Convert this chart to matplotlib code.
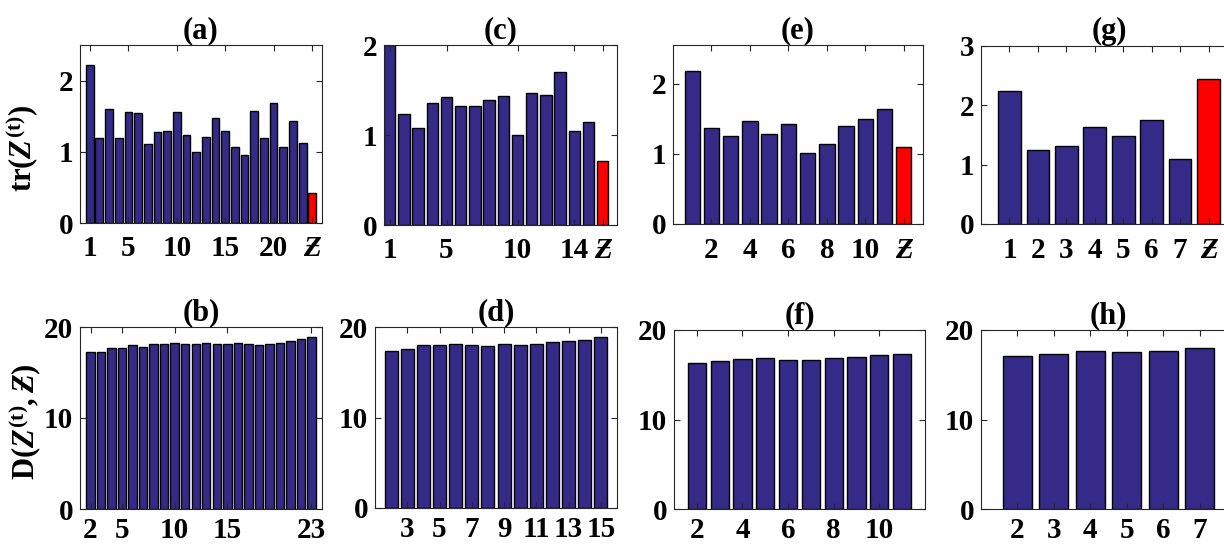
import numpy as np
import matplotlib.pyplot as plt

plt.rcParams["font.family"] = ["Liberation Serif", "DejaVu Serif"]
plt.rcParams["font.weight"] = "bold"
plt.rcParams["mathtext.fontset"] = "custom"
plt.rcParams["mathtext.rm"] = "Liberation Serif:bold"
plt.rcParams["mathtext.it"] = "Liberation Serif:italic:bold"
plt.rcParams["mathtext.bf"] = "Liberation Serif:bold"

ZS = "\u01b5"

# top row: tr(Z^(t)) per cluster, last bar is the merged one (red)
tr_a = [2.22, 1.19, 1.60, 1.19, 1.56, 1.54, 1.11, 1.28, 1.29, 1.56, 1.24, 1.00,
        1.21, 1.48, 1.29, 1.07, 0.95, 1.57, 1.19, 1.68, 1.07, 1.43, 1.12]
tr_a_z = 0.42
tr_c = [2.00, 1.23, 1.08, 1.35, 1.42, 1.32, 1.32, 1.39, 1.43, 1.00, 1.47, 1.44,
        1.70, 1.04, 1.14]
tr_c_z = 0.71
tr_e = [2.18, 1.37, 1.26, 1.47, 1.28, 1.42, 1.01, 1.14, 1.39, 1.50, 1.64]
tr_e_z = 1.10
tr_g = [2.24, 1.25, 1.31, 1.63, 1.48, 1.75, 1.10]
tr_g_z = 2.44

# bottom row: D(Z^(t), Z) for t = 2..T
d_b = [17.2, 17.3, 17.7, 17.7, 18.0, 17.8, 18.1, 18.1, 18.2, 18.1, 18.1, 18.2,
       18.1, 18.1, 18.2, 18.1, 18.0, 18.1, 18.2, 18.5, 18.7, 18.9]
d_d = [17.4, 17.6, 18.0, 18.0, 18.1, 18.0, 17.9, 18.1, 18.0, 18.1, 18.3, 18.4,
       18.6, 18.9]
d_f = [16.3, 16.5, 16.8, 16.9, 16.6, 16.6, 16.9, 17.0, 17.2, 17.3]
d_h = [17.1, 17.3, 17.6, 17.5, 17.7, 18.0]

xt_a = [1, 5, 10, 15, 20]
xt_c = [1, 5, 10, 14]
xt_e = [2, 4, 6, 8, 10]
xt_g = [1, 2, 3, 4, 5, 6, 7]
xt_b = [2, 5, 10, 15, 23]
xt_d = [3, 5, 7, 9, 11, 13, 15]
xt_f = [2, 4, 6, 8, 10]
xt_h = [2, 3, 4, 5, 6, 7]

BLUE = "#352a87"
FS = 21
W, H = 1224, 544

fig = plt.figure(figsize=(W / 100, H / 100), dpi=100)


def px_axes(l, t, r, b):
    return fig.add_axes([l / W, 1 - b / H, (r - l) / W, (b - t) / H])


def style(ax, title, xpad):
    for s in ax.spines.values():
        s.set_color("#262626")
        s.set_linewidth(0.8)
    ax.tick_params(direction="in", top=True, right=True, length=4, width=0.8,
                   labelsize=FS, color="#262626")
    ax.tick_params(axis="x", pad=xpad)
    ax.tick_params(axis="y", pad=5)
    ax.set_title(title, fontsize=FS + 1, fontweight="bold", pad=5)


def tr_panel(ax, vals, zval, xt, xlim, ylim, yt, title):
    x = np.arange(1, len(vals) + 1)
    ax.bar(x, vals, width=0.8, color=BLUE, edgecolor="k", linewidth=1)
    zx = len(vals) + 1
    ax.bar([zx], [zval], width=0.8, color="red", edgecolor="k", linewidth=1)
    ax.set_xticks(list(xt) + [zx])
    ax.set_xticklabels([str(v) for v in xt] + [ZS])
    ax.get_xticklabels()[-1].set_fontstyle("italic")
    ax.set_xlim(*xlim)
    ax.set_ylim(*ylim)
    ax.set_yticks(yt)
    style(ax, title, 9)


def d_panel(ax, vals, xt, xlim, title):
    x = np.arange(2, len(vals) + 2)
    ax.bar(x, vals, width=0.8, color=BLUE, edgecolor="k", linewidth=1)
    ax.set_xticks(xt)
    ax.set_xlim(*xlim)
    ax.set_ylim(0, 20)
    ax.set_yticks([0, 10, 20])
    style(ax, title, 6)


ax_a = px_axes(80, 45, 322, 223)
tr_panel(ax_a, tr_a, tr_a_z, xt_a, (0, 25), (0, 2.5), [0, 1, 2], "(a)")
ax_a.set_ylabel(r"$\mathrm{tr}(Z^{(\mathrm{t})})$", fontsize=22)
ax_a.yaxis.set_label_coords(-0.16, 0.42)

ax_c = px_axes(384, 45, 617, 225)
tr_panel(ax_c, tr_c, tr_c_z, xt_c, (0.6, 17), (0, 2), [0, 1, 2], "(c)")

ax_e = px_axes(673, 45, 923, 224)
tr_panel(ax_e, tr_e, tr_e_z, xt_e, (0, 13), (0, 2.55), [0, 1, 2], "(e)")

ax_g = px_axes(981, 46, 1237, 224)
tr_panel(ax_g, tr_g, tr_g_z, xt_g, (0, 9), (0, 3), [0, 1, 2, 3], "(g)")

ax_b = px_axes(80, 327, 322, 509)
d_panel(ax_b, d_b, xt_b, (1, 24), "(b)")
ax_b.set_ylabel(r"$\mathrm{D}(Z^{(\mathrm{t})}, " + ZS + ")$", fontsize=22)
ax_b.yaxis.set_label_coords(-0.15, 0.48)

ax_d = px_axes(375, 327, 617, 508)
d_panel(ax_d, d_d, xt_d, (1, 16), "(d)")

ax_f = px_axes(674, 330, 925, 509)
d_panel(ax_f, d_f, xt_f, (1, 12), "(f)")

ax_h = px_axes(981, 330, 1236, 509)
d_panel(ax_h, d_h, xt_h, (1, 8), "(h)")

fig.savefig("out.png", dpi=100)
